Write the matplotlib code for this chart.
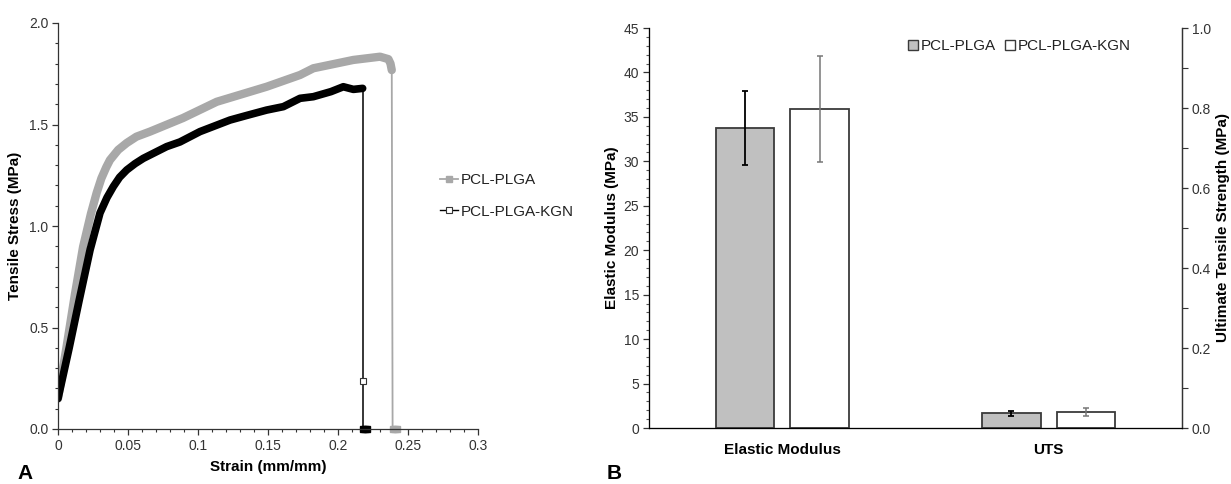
import numpy as np
import matplotlib
matplotlib.use("Agg")
import matplotlib.pyplot as plt
from matplotlib.lines import Line2D
from matplotlib.patches import Patch
from matplotlib.ticker import MultipleLocator, FixedLocator, FixedFormatter

plt.rcParams['font.family'] = ['Liberation Sans', 'DejaVu Sans']

# -----------------------------
# Panel A: stress-strain curves
# -----------------------------
plga_strain = [0.0, 0.006, 0.012, 0.0179, 0.0235, 0.0276, 0.031, 0.0345, 0.0371,
               0.043, 0.0491, 0.056, 0.0657, 0.0893, 0.1134, 0.149, 0.1729,
               0.1824, 0.2109, 0.230, 0.236, 0.2375, 0.2384]
plga_stress = [0.15, 0.40, 0.66, 0.897, 1.06, 1.163, 1.235, 1.29, 1.325,
               1.375, 1.409, 1.44, 1.465, 1.532, 1.612, 1.686, 1.744,
               1.777, 1.818, 1.834, 1.822, 1.80, 1.768]
plga_fail_strain = [0.2384, 0.239]
plga_fail_stress = [1.768, 0.0]
plga_zero_strain = [0.239, 0.2405, 0.242]
plga_zero_stress = [0.0, 0.0, 0.0]

kgn_strain = [0.0, 0.008, 0.015, 0.0229, 0.030, 0.035, 0.0395, 0.044, 0.0491,
              0.055, 0.0609, 0.0776, 0.0871, 0.1014, 0.1229, 0.135, 0.149,
              0.161, 0.1729, 0.1824, 0.195, 0.2038, 0.211, 0.2176]
kgn_stress = [0.15, 0.40, 0.63, 0.882, 1.064, 1.14, 1.194, 1.24, 1.276,
              1.307, 1.333, 1.391, 1.414, 1.465, 1.522, 1.545, 1.571,
              1.588, 1.629, 1.637, 1.662, 1.686, 1.673, 1.678]
kgn_fail_strain = [0.2176, 0.2176]
kgn_fail_stress = [1.678, 0.0]
kgn_mark_strain = [0.2176]
kgn_mark_stress = [0.236]
kgn_zero_strain = [0.2178, 0.219, 0.2205]
kgn_zero_stress = [0.0, 0.0, 0.0]

x_ticks = [0, 0.05, 0.1, 0.15, 0.2, 0.25, 0.3]
x_labels = ['0', '0.05', '0.1', '0.15', '0.2', '0.25', '0.3']
y_ticks = [0.0, 0.5, 1.0, 1.5, 2.0]
y_labels = ['0.0', '0.5', '1.0', '1.5', '2.0']

# -----------------------------
# Panel B: bar chart
# -----------------------------
groups = ['Elastic Modulus', 'UTS']
plga_vals = [33.75, 1.65]
plga_err = [4.15, 0.28]
kgn_vals = [35.85, 1.80]
kgn_err = [5.95, 0.45]

em_ticks = list(range(0, 50, 5))
uts_ticks = [0.0, 0.2, 0.4, 0.6, 0.8, 1.0]
uts_labels = ['0.0', '0.2', '0.4', '0.6', '0.8', '1.0']

GRAY = '#a8a8a8'
TXT = '#333333'
W, H = 1231, 484
TICK_FS = 10
LAB_FS = 11

fig = plt.figure(figsize=(W / 100, H / 100), dpi=100)

axA = fig.add_axes([58 / W, (H - 429) / H, 420 / W, 406 / H])
axA.plot(plga_strain, plga_stress, color=GRAY, lw=6, solid_capstyle='round',
         solid_joinstyle='round')
axA.plot(plga_fail_strain, plga_fail_stress, color=GRAY, lw=1.3)
axA.plot(plga_zero_strain, plga_zero_stress, ls='none', marker='s', ms=5,
         color=GRAY, clip_on=False)
axA.plot(kgn_strain, kgn_stress, color='black', lw=5.5, solid_capstyle='round',
         solid_joinstyle='round')
axA.plot(kgn_fail_strain, kgn_fail_stress, color='black', lw=1.1)
axA.plot(kgn_mark_strain, kgn_mark_stress, ls='none', marker='s', ms=4,
         mfc='white', mec='#333333', mew=0.8)
axA.plot(kgn_zero_strain, kgn_zero_stress, ls='none', marker='s', ms=5,
         color='black', clip_on=False)

axA.set_xlim(0, 0.3)
axA.set_ylim(0, 2.0)
axA.xaxis.set_major_locator(FixedLocator(x_ticks))
axA.xaxis.set_major_formatter(FixedFormatter(x_labels))
axA.xaxis.set_minor_locator(MultipleLocator(0.01))
axA.yaxis.set_major_locator(FixedLocator(y_ticks))
axA.yaxis.set_major_formatter(FixedFormatter(y_labels))
axA.yaxis.set_minor_locator(MultipleLocator(0.1))
axA.tick_params(which='major', direction='out', length=4, width=0.9,
                labelsize=TICK_FS, labelcolor=TXT, color='#333333', pad=3)
axA.tick_params(which='minor', direction='out', length=2.5, width=0.8,
                color='#333333')
for s in ['top', 'right']:
    axA.spines[s].set_visible(False)
for s in ['left', 'bottom']:
    axA.spines[s].set_linewidth(0.9)
    axA.spines[s].set_color('#333333')
axA.set_xlabel('Strain (mm/mm)', fontsize=LAB_FS, fontweight='bold', labelpad=5)
axA.set_ylabel('Tensile Stress (MPa)', fontsize=LAB_FS, fontweight='bold')
axA.yaxis.set_label_coords(-0.085, 0.5)

legA = [Line2D([], [], color=GRAY, lw=1.3, marker='s', ms=4, mfc=GRAY, mec=GRAY),
        Line2D([], [], color='black', lw=1.0, marker='s', ms=4, mfc='white',
               mec='#333333', mew=0.8)]
fig.legend(legA, ['PCL-PLGA', 'PCL-PLGA-KGN'], loc='center left',
           bbox_to_anchor=(432 / W, 1 - 196 / H), frameon=False, fontsize=11,
           handlelength=1.2, handletextpad=0.15, labelspacing=1.15,
           borderpad=0, labelcolor='#222222')

# -----------------------------
# Panel B
# -----------------------------
axB = fig.add_axes([649 / W, (H - 428) / H, 533 / W, 400 / H])
x = np.arange(len(groups))
bw = 0.22
off = 0.14
axB.bar(x - off, plga_vals, bw, color='#c0c0c0', edgecolor='#3a3a3a', lw=1.3,
        zorder=2)
axB.bar(x + off, kgn_vals, bw, color='white', edgecolor='#3a3a3a', lw=1.3,
        zorder=2)
axB.errorbar(x - off, plga_vals, yerr=plga_err, fmt='none', ecolor='black',
             elinewidth=1.3, capsize=2, capthick=1.3, zorder=3)
axB.errorbar(x + off, kgn_vals, yerr=kgn_err, fmt='none', ecolor='#777777',
             elinewidth=1.1, capsize=2, capthick=1.1, zorder=3)

axB.set_xlim(-0.5, 1.5)
axB.set_ylim(0, 45)
axB.set_xticks(x)
axB.set_xticklabels(groups, fontsize=LAB_FS, fontweight='bold')
axB.tick_params(axis='x', length=0, pad=11)
axB.yaxis.set_major_locator(FixedLocator(em_ticks))
axB.yaxis.set_minor_locator(MultipleLocator(1))
axB.tick_params(axis='y', which='major', direction='out', length=4, width=0.9,
                labelsize=TICK_FS, labelcolor=TXT, color='#333333', pad=3)
axB.tick_params(axis='y', which='minor', direction='out', length=2.5, width=0.8,
                color='#555555')
axB.spines['top'].set_visible(False)
for s in ['left', 'bottom', 'right']:
    axB.spines[s].set_linewidth(0.9)
    axB.spines[s].set_color('#333333')
axB.set_ylabel('Elastic Modulus (MPa)', fontsize=LAB_FS, fontweight='bold')
axB.yaxis.set_label_coords(-0.056, 0.5)

axR = axB.twinx()
axR.set_ylim(0, 1.0)
axR.yaxis.set_major_locator(FixedLocator(uts_ticks))
axR.yaxis.set_major_formatter(FixedFormatter(uts_labels))
axR.yaxis.set_minor_locator(MultipleLocator(0.1))
axR.tick_params(which='major', direction='out', length=4, width=0.9,
                labelsize=TICK_FS, labelcolor=TXT, color='#333333', pad=3)
axR.tick_params(which='minor', direction='out', length=4, width=0.8,
                color='#333333')
axR.spines['top'].set_visible(False)
axR.spines['right'].set_linewidth(0.9)
axR.spines['right'].set_color('#333333')
axR.set_ylabel('Ultimate Tensile Strength (MPa)', fontsize=LAB_FS,
               fontweight='bold', rotation=90)
axR.yaxis.set_label_coords(1.063, 0.5)

legB = [Patch(facecolor='#c0c0c0', edgecolor='#3a3a3a', lw=1.0),
        Patch(facecolor='white', edgecolor='#3a3a3a', lw=1.0)]
fig.legend(legB, ['PCL-PLGA', 'PCL-PLGA-KGN'], loc='center left',
           bbox_to_anchor=(900 / W, 1 - 46.5 / H), frameon=False, fontsize=11,
           ncol=2, handlelength=0.65, handleheight=0.65, handletextpad=0.2,
           columnspacing=0.6, borderpad=0, labelcolor='#222222')

fig.text(17 / W, 1 / H, 'A', fontsize=15, fontweight='bold', ha='left',
         va='bottom')
fig.text(607 / W, 1 / H, 'B', fontsize=15, fontweight='bold', ha='left',
         va='bottom')

fig.savefig('out.png', dpi=100)
